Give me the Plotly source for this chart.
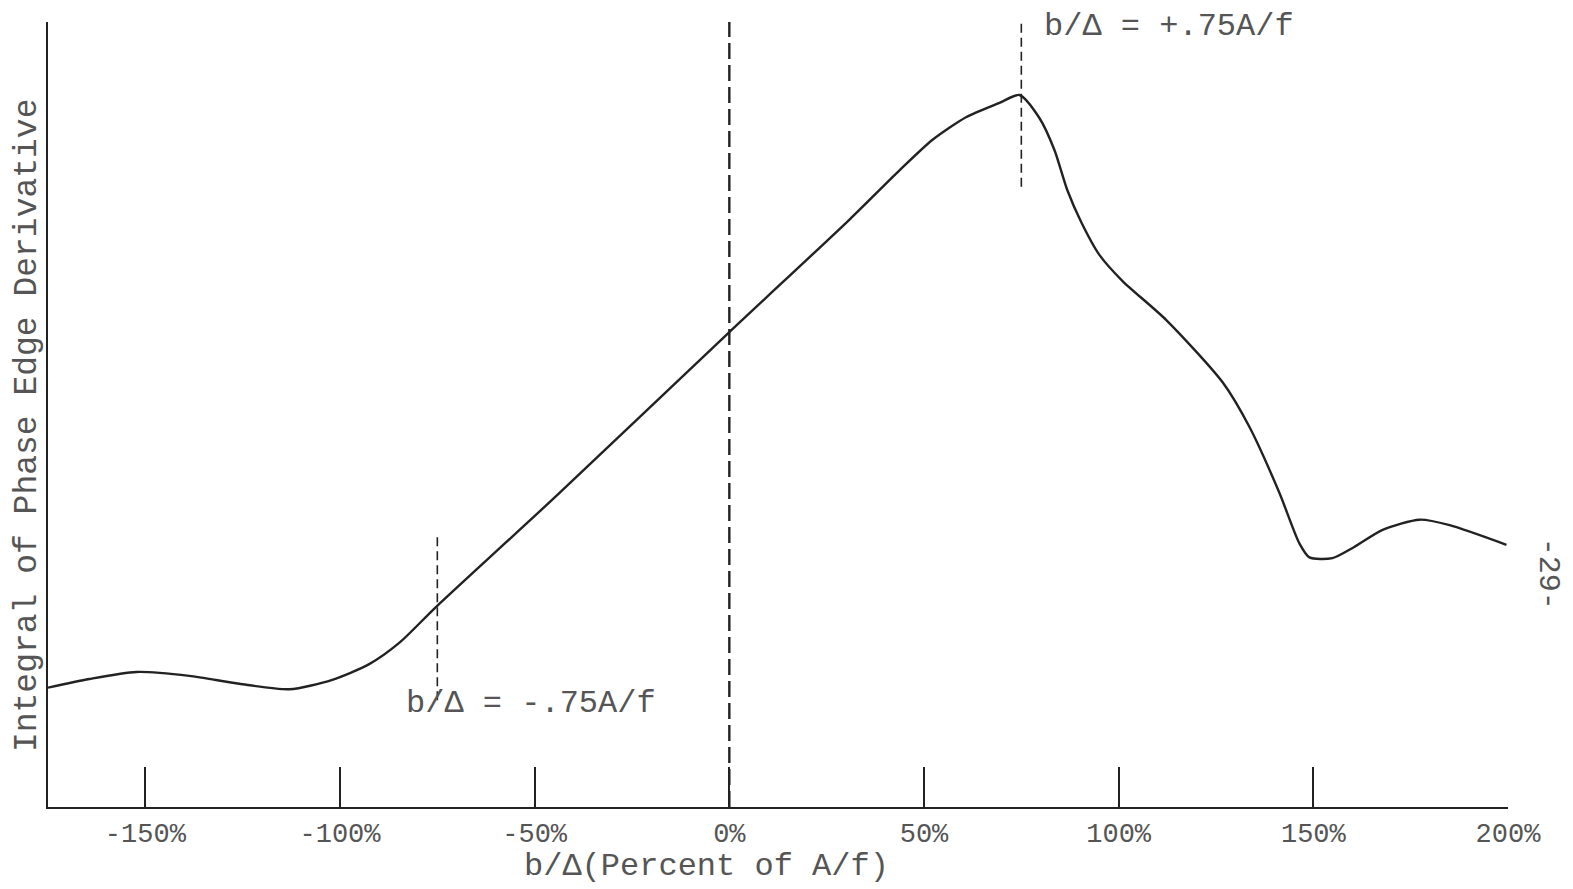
import plotly.graph_objects as go

# ---- data ----
x_pct = [-175.0, -164.4, -152.3, -138.7, -125.9, -113.0, -102.0, -92.5, -84.8, -75.3,
         -44.5, 0.0, 30.8, 43.7, 52.2, 60.9, 69.4, 74.5, 79.6, 83.5, 86.8, 90.4,
         95.1, 101.0, 112.3, 126.7, 133.6, 141.3, 146.4, 149.0, 154.9, 160.1,
         167.8, 177.3, 185.0, 199.6]
integral = [15.2, 16.3, 17.2, 16.7, 15.7, 15.0, 16.2, 18.2, 20.9, 25.5,
            39.6, 60.5, 74.8, 81.1, 85.0, 87.9, 89.7, 90.7, 87.8, 83.7, 78.6, 74.5,
            70.3, 67.0, 62.0, 54.1, 48.4, 40.0, 33.6, 31.8, 31.7, 33.0,
            35.3, 36.6, 35.9, 33.4]

tick_vals = [-150, -100, -50, 0, 50, 100, 150, 200]
tick_text = ["-150%", "-100%", "-50%", "0%", "50%", "100%", "150%", "200%"]

# reference (dashed) markers: x position, bottom and top of each dashed segment
marker_x = [-75, 0, 75]
marker_lo = [13.6, 0.0, 79.0]
marker_hi = [34.6, 100.0, 100.0]
marker_dash = ["9px,5px", "16px,6px", "9px,5px"]
marker_width = [1.6, 2.4, 1.6]

label_left = "b/Δ = -.75A/f"
label_right = "b/Δ = +.75A/f"
x_title = "b/Δ(Percent of A/f)"
y_title = "Integral of Phase Edge Derivative"
page_no = "-29-"

FONT = "Liberation Mono, Courier New, monospace"
INK = "#222222"
TXT = "#555555"

fig = go.Figure()

fig.add_trace(go.Scatter(
    x=x_pct, y=integral, mode="lines",
    line=dict(color=INK, width=2.4, shape="spline", smoothing=0.7),
    showlegend=False, hoverinfo="skip"))

for mx, lo, hi, d, w in zip(marker_x, marker_lo, marker_hi, marker_dash, marker_width):
    fig.add_trace(go.Scatter(
        x=[mx, mx], y=[lo, hi], mode="lines",
        line=dict(color=INK, width=w, dash=d),
        showlegend=False, hoverinfo="skip"))

fig.update_layout(
    width=1573, height=889,
    margin=dict(l=48, r=65, t=22, b=82),
    paper_bgcolor="white", plot_bgcolor="white",
    font=dict(family=FONT, color=TXT, size=28),
    xaxis=dict(
        range=[-175, 200], showgrid=False, zeroline=False,
        showline=True, linecolor=INK, linewidth=2.2,
        ticks="inside", ticklen=40, tickwidth=2, tickcolor=INK,
        tickvals=tick_vals, ticktext=tick_text,
        tickfont=dict(family=FONT, size=27, color=TXT),
        ticklabelstandoff=0,
    ),
    yaxis=dict(
        range=[0, 100], showgrid=False, zeroline=False,
        showline=True, linecolor=INK, linewidth=2.2,
        showticklabels=False, ticks="",
    ),
    annotations=[
        dict(text=label_right, x=80.4, y=99.4, xref="x", yref="y",
             xanchor="left", yanchor="middle", showarrow=False,
             font=dict(family=FONT, size=32, color=TXT)),
        dict(text=label_left, x=-83.5, y=13.2, xref="x", yref="y",
             xanchor="left", yanchor="middle", showarrow=False,
             font=dict(family=FONT, size=32, color=TXT)),
        dict(text=x_title, x=0.4507, y=-0.0755, xref="paper", yref="paper",
             xanchor="center", yanchor="middle", showarrow=False,
             font=dict(family=FONT, size=32, color=TXT)),
        dict(text=y_title, x=-0.0140, y=0.486, xref="paper", yref="paper",
             xanchor="center", yanchor="middle", showarrow=False, textangle=-90,
             font=dict(family=FONT, size=33, color=TXT)),
        dict(text=page_no, x=1.0274, y=0.297, xref="paper", yref="paper",
             xanchor="center", yanchor="middle", showarrow=False, textangle=90,
             font=dict(family=FONT, size=30, color=TXT)),
    ],
)

fig.write_html("out.html")
